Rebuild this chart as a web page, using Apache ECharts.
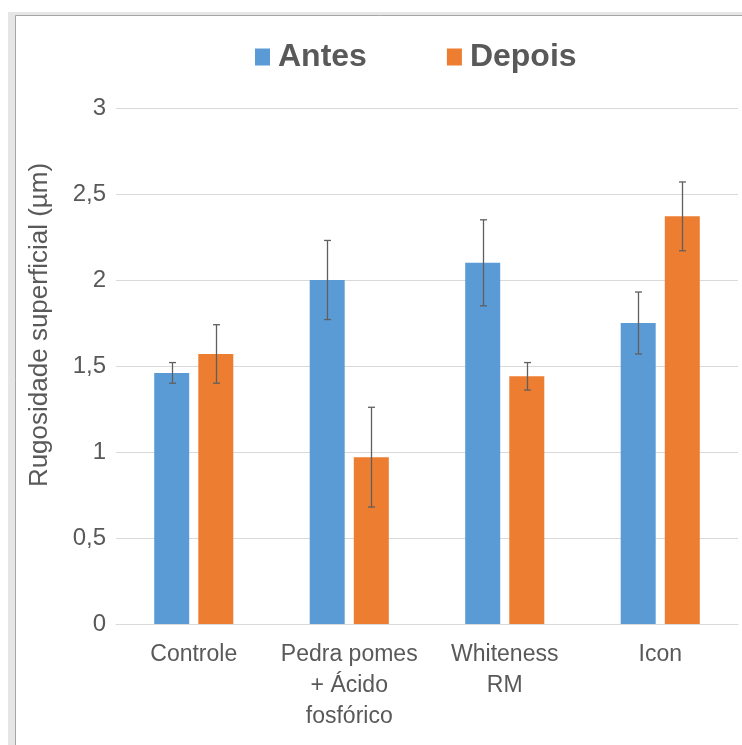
<!DOCTYPE html>
<html>
<head>
<meta charset="utf-8">
<script src="https://cdn.jsdelivr.net/npm/echarts@6/dist/echarts.min.js"></script>
<style>
html,body{margin:0;padding:0;background:#fff;}
#chart{width:742px;height:745px;}
</style>
</head>
<body>
<div id="chart"></div>
<script>
const categories = ['Controle', 'Pedra pomes\n+ Ácido\nfosfórico', 'Whiteness\nRM', 'Icon'];
const seriesNames = ['Antes', 'Depois'];
const antes = [1.46, 2.00, 2.10, 1.75];
const depois = [1.57, 0.97, 1.44, 2.37];
const antesErr = [0.06, 0.23, 0.25, 0.18];
const depoisErr = [0.17, 0.29, 0.08, 0.20];
const yTicks = [0, 0.5, 1, 1.5, 2, 2.5, 3];
const yTitle = 'Rugosidade superficial (µm)';

const FONT = '"Liberation Sans", Arial, sans-serif';
const TXT = '#595959';
const BAR_W = 35;
const OFFSET = 22;

function errData(vals, errs) {
  return vals.map((v, i) => [i, v - errs[i], v + errs[i]]);
}
function errSeries(vals, errs, dx) {
  return {
    type: 'custom',
    z: 10,
    silent: true,
    data: errData(vals, errs),
    encode: { x: 0, y: [1, 2] },
    renderItem: function (params, api) {
      const lo = api.coord([api.value(0), api.value(1)]);
      const hi = api.coord([api.value(0), api.value(2)]);
      const x = Math.round(lo[0] + dx) + 0.5;
      const cap = 3.5;
      const style = { stroke: '#5f5f5f', lineWidth: 1.3, fill: null };
      return {
        type: 'group',
        children: [
          { type: 'line', shape: { x1: x, y1: lo[1], x2: x, y2: hi[1] }, style: style },
          { type: 'line', shape: { x1: x - cap, y1: lo[1], x2: x + cap, y2: lo[1] }, style: style },
          { type: 'line', shape: { x1: x - cap, y1: hi[1], x2: x + cap, y2: hi[1] }, style: style }
        ]
      };
    }
  };
}

const chart = echarts.init(document.getElementById('chart'), null, { renderer: 'canvas' });
chart.setOption({
  animation: false,
  backgroundColor: '#ffffff',
  textStyle: { fontFamily: FONT },
  graphic: {
    elements: [
      { type: 'rect', z: -10, shape: { x: 8, y: 12, width: 740, height: 740 }, style: { fill: '#e6e6e6' } },
      { type: 'rect', z: -9, shape: { x: 15.5, y: 15.5, width: 740, height: 740 }, style: { fill: '#ffffff', stroke: '#a6a6a6', lineWidth: 1 } },
      {
        type: 'text', z: 5, x: 40, y: 325, rotation: Math.PI / 2,
        style: { text: yTitle, fill: TXT, font: '26px ' + FONT, textAlign: 'center', textVerticalAlign: 'middle' }
      }
    ]
  },
  legend: {
    data: seriesNames,
    left: 250,
    top: 36,
    itemWidth: 15,
    itemHeight: 17,
    itemGap: 80,
    textStyle: { fontFamily: FONT, fontSize: 32, fontWeight: 'bold', color: TXT, padding: [0, 0, 0, 3] },
    icon: 'rect'
  },
  grid: { left: 116, right: 4, top: 108, bottom: 121, containLabel: false },
  xAxis: {
    type: 'category',
    data: categories,
    axisLine: { show: true, lineStyle: { color: '#d9d9d9', width: 1 } },
    axisTick: { show: false },
    axisLabel: { color: TXT, fontSize: 23, lineHeight: 31, margin: 15, interval: 0, fontFamily: FONT }
  },
  yAxis: {
    type: 'value',
    min: 0,
    max: 3,
    interval: 0.5,
    axisLine: { show: false },
    axisTick: { show: false },
    splitLine: { lineStyle: { color: '#d9d9d9', width: 1 } },
    axisLabel: {
      color: TXT, fontSize: 24, margin: 10, fontFamily: FONT,
      formatter: function (v) { return String(v).replace('.', ','); }
    }
  },
  series: [
    {
      name: seriesNames[0], type: 'bar', data: antes, barWidth: BAR_W, barGap: '26%',
      itemStyle: { color: '#5b9bd5' }
    },
    {
      name: seriesNames[1], type: 'bar', data: depois, barWidth: BAR_W, barGap: '26%',
      itemStyle: { color: '#ed7d31' }
    },
    errSeries(antes, antesErr, -OFFSET),
    errSeries(depois, depoisErr, OFFSET)
  ]
});
</script>
</body>
</html>
